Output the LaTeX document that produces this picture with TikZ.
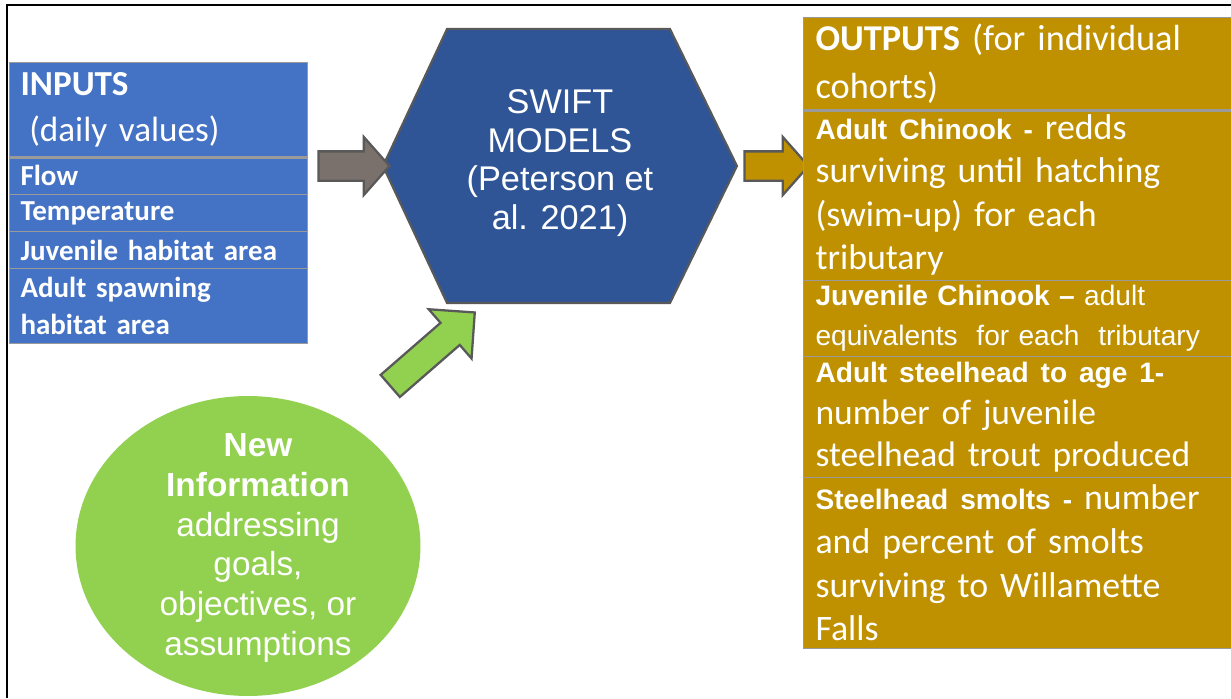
\documentclass[tikz,border=0pt]{standalone}
\usepackage{fontspec}
\setmainfont{Carlito}
\newfontfamily\arialf{Liberation Sans}
\usetikzlibrary{shapes.geometric,shapes.arrows}

\definecolor{inblue}{HTML}{4472C4}
\definecolor{hexblue}{HTML}{2F5597}
\definecolor{outgold}{HTML}{BF9000}
\definecolor{newgreen}{HTML}{92D050}
\definecolor{arrgray}{HTML}{7B716C}
\definecolor{edgegray}{HTML}{595959}
\definecolor{rowgray}{HTML}{9A9A9A}

\newcommand{\outb}[1]{{\arialf\bfseries\fontsize{16}{20}\selectfont #1}}

\begin{document}
\begin{tikzpicture}[
	x=0.02cm, y=-0.02cm,
	inrow/.style={draw=rowgray, line width=0.6pt, fill=inblue, text=white, anchor=north west, minimum width=5.96cm, text width=5.52cm, inner xsep=0.22cm, inner ysep=0pt, align=left, font=\bfseries\fontsize{16.5}{21}\selectfont},
	outrow/.style={draw=rowgray, line width=0.6pt, fill=outgold, text=white, anchor=north west, minimum width=8.8cm, text width=8.32cm, inner xsep=0.24cm, inner ysep=0pt, align=left, font=\fontsize{20.4}{24.8}\selectfont},
	blockarrow/.style={single arrow, draw=edgegray, line width=1.3pt, inner xsep=0pt, inner ysep=0.27cm, single arrow tip angle=97},
	sep/.style={rowgray, line width=1.7pt}
]
\useasboundingbox (0,0) rectangle (1231,698);
\draw[line width=1.4pt] (7,698) -- (7,5) -- (1231,5);

% inputs
\node[inrow, minimum height=1.88cm, font=\fontsize{20}{26}\selectfont] (inhead) at (9,62) {\textbf{INPUTS}\\\hspace{0.25em}(daily values)};
\node[inrow, minimum height=0.76cm] (flow) at (9,156) {Flow};
\node[inrow, minimum height=0.74cm] (temp) at (9,194) {Temperature};
\node[inrow, minimum height=0.74cm] (juvhab) at (9,231) {Juvenile habitat area};
\node[inrow, minimum height=1.5cm] (adulthab) at (9,268) {Adult spawning\\habitat area};
\draw[sep] (inhead.south west) -- (inhead.south east);

% model
\coordinate (hexW) at (383,166);
\coordinate (hexE) at (737,166);
\draw[fill=hexblue, draw=edgegray, line width=1.2pt] (hexW) -- (447,29) -- (670,29) -- (hexE) -- (670,303) -- (447,303) -- cycle;
\node[text=white, align=center, font=\arialf\fontsize{19.5}{22}\selectfont] (swift) at (560,163) {SWIFT\\MODELS\\(Peterson et\\al. 2021)};

% arrows
\node[blockarrow, fill=arrgray, minimum height=1.42cm, single arrow head extend=0.29cm] (inarrow) at (347.5,166) {};
\node[blockarrow, fill=outgold, minimum height=1.28cm, single arrow head extend=0.29cm] (outarrow) at (770,166) {};
\node[blockarrow, fill=newgreen, minimum height=2.24cm, single arrow head extend=0.36cm, single arrow tip angle=90, rotate=41] (newarrow) at (427,354) {};

% new information
\node[ellipse, fill=newgreen, minimum width=6.9cm, minimum height=6cm, inner sep=0pt] (newinfo) at (248,546) {};
\node[text=white, align=center, font=\arialf\fontsize{19}{22.7}\selectfont] (newtext) at (258,548) {\textbf{New}\\\textbf{Information}\\addressing\\goals,\\objectives, or\\assumptions};

% outputs
\node[outrow, minimum height=1.84cm, font=\fontsize{20.7}{27}\selectfont] (outhead) at (803,17) {\textbf{OUTPUTS} (for individual\\cohorts)};
\node[outrow, minimum height=3.42cm] (adultchin) at (803,109) {\outb{Adult Chinook -} redds\\surviving until hatching\\(swim-up) for each\\tributary};
\node[outrow, minimum height=1.52cm, font=\arialf\fontsize{16}{22.7}\selectfont] (juvchin) at (803,280) {\outb{Juvenile Chinook –} adult\\equivalents\ \ for each\ \ tributary};
\node[outrow, minimum height=2.42cm, font=\fontsize{20.2}{23.8}\selectfont] (adultsteel) at (803,356) {\outb{Adult steelhead to age 1-}\\number of juvenile\\steelhead trout produced};
\node[outrow, minimum height=3.42cm] (smolts) at (803,477) {\outb{Steelhead smolts -} number\\and percent of smolts\\surviving to Willamette\\Falls};
\draw[sep] (outhead.south west) -- (outhead.south east);
\end{tikzpicture}
\end{document}
